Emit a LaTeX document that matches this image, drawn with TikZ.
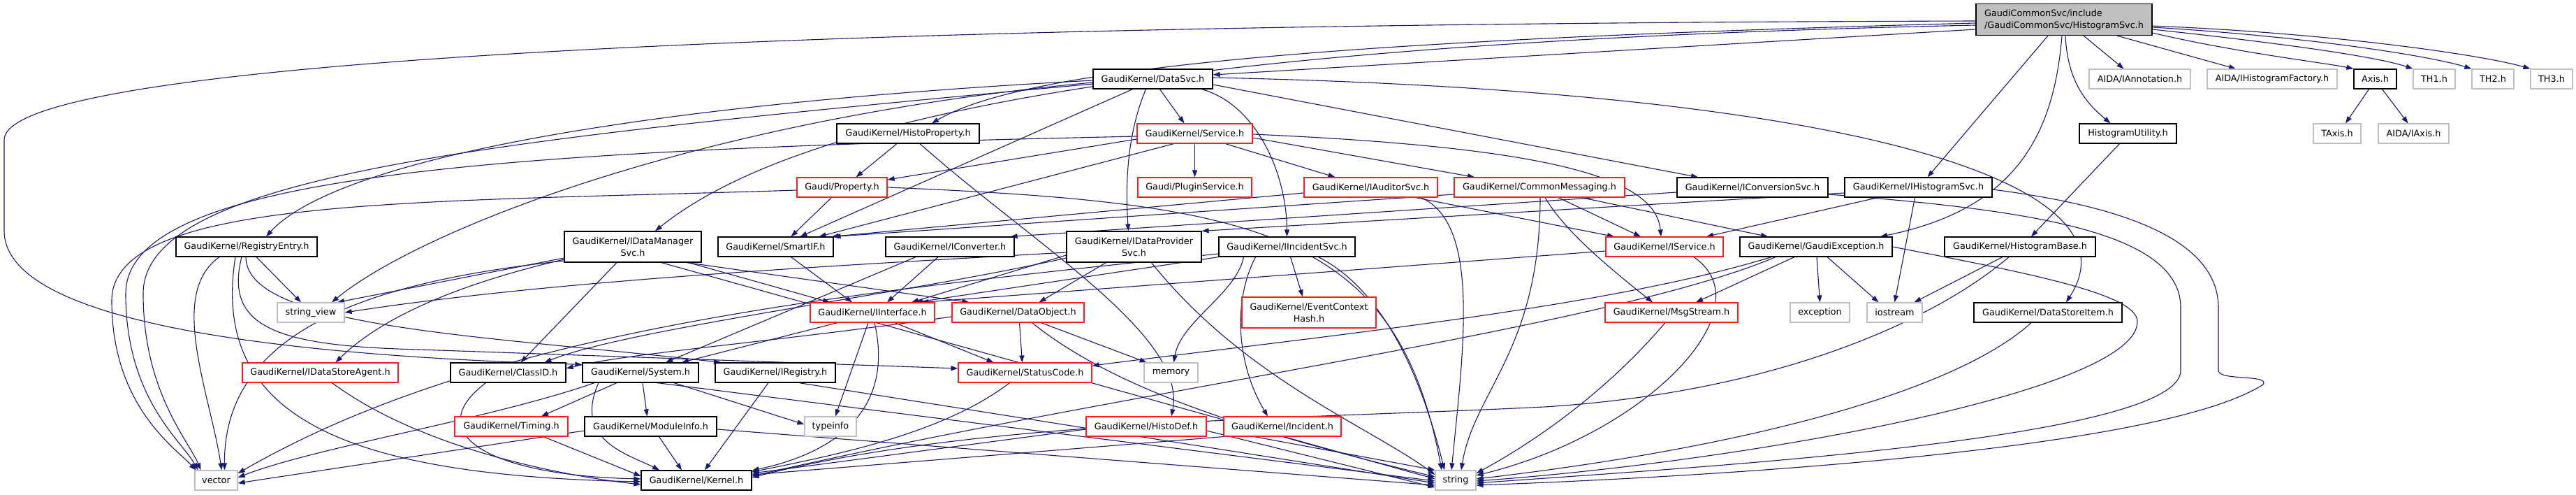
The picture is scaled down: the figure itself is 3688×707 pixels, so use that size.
\documentclass[tikz,border=0pt]{standalone}
\usepackage{fontspec}
\setmainfont{DejaVu Sans}
\usetikzlibrary{arrows.meta,backgrounds}
\definecolor{edgeblue}{RGB}{25,25,112}
\definecolor{boxgray}{RGB}{191,191,191}
\definecolor{boxred}{RGB}{255,30,30}
\tikzset{
  hdr/.style={draw=black,line width=1.2pt,fill=white,rectangle,inner sep=0pt,minimum height=28,font=\fontsize{12.8}{17}\selectfont},
  hdrred/.style={hdr,draw=boxred},
  hdrext/.style={hdr,draw=boxgray},
  dep/.style={draw=edgeblue,line width=1.1pt,-{Triangle[length=10pt,width=7pt]}}
}
\begin{document}
\begin{tikzpicture}[x=1pt,y=-1pt]
\useasboundingbox (0,0) rectangle (3688,707);
\node[hdr,fill=boxgray,align=left,minimum width=252,minimum height=45] (HistogramSvc) at (2955,28) {GaudiCommonSvc/include\\/GaudiCommonSvc/HistogramSvc.h};
\node[hdr,minimum width=171] (DataSvc) at (1650.5,113) {GaudiKernel/DataSvc.h};
\node[hdrext,minimum width=145] (IAnnotation) at (3063.5,113) {AIDA/IAnnotation.h};
\node[hdrext,minimum width=186] (IHistogramFactory) at (3253,113) {AIDA/IHistogramFactory.h};
\node[hdr,minimum width=61] (Axis) at (3400.5,113) {Axis.h};
\node[hdrext,minimum width=60] (TH1) at (3485,113) {TH1.h};
\node[hdrext,minimum width=60] (TH2) at (3569,113) {TH2.h};
\node[hdrext,minimum width=60] (TH3) at (3653,113) {TH3.h};
\node[hdr,minimum width=204] (HistoProperty) at (1300,191) {GaudiKernel/HistoProperty.h};
\node[hdrred,minimum width=165] (Service) at (1710.5,191) {GaudiKernel/Service.h};
\node[hdr,minimum width=139] (HistogramUtility) at (3046.5,191) {HistogramUtility.h};
\node[hdrext,minimum width=68] (TAxis) at (3346,191) {TAxis.h};
\node[hdrext,minimum width=101] (IAxis) at (3455.5,191) {AIDA/IAxis.h};
\node[hdrred,minimum width=129] (Property) at (1205.5,268) {Gaudi/Property.h};
\node[hdrred,minimum width=163] (PluginService) at (1710.5,268) {Gaudi/PluginService.h};
\node[hdrred,minimum width=191] (IAuditorSvc) at (1962.5,268) {GaudiKernel/IAuditorSvc.h};
\node[hdrred,minimum width=244] (CommonMessaging) at (2204,268) {GaudiKernel/CommonMessaging.h};
\node[hdr,minimum width=216] (IConversionSvc) at (2509,268) {GaudiKernel/IConversionSvc.h};
\node[hdr,minimum width=211] (IHistogramSvc) at (2746.5,268) {GaudiKernel/IHistogramSvc.h};
\node[hdr,minimum width=202] (RegistryEntry) at (353,353) {GaudiKernel/RegistryEntry.h};
\node[hdr,align=center,minimum width=196,minimum height=44] (IDataManagerSvc) at (906,353) {GaudiKernel/IDataManager\\Svc.h};
\node[hdr,minimum width=165] (SmartIF) at (1110.5,353) {GaudiKernel/SmartIF.h};
\node[hdr,minimum width=184] (IConverter) at (1360,353) {GaudiKernel/IConverter.h};
\node[hdr,align=center,minimum width=193,minimum height=44] (IDataProviderSvc) at (1623.5,353) {GaudiKernel/IDataProvider\\Svc.h};
\node[hdr,minimum width=195] (IIncidentSvc) at (1842.5,353) {GaudiKernel/IIncidentSvc.h};
\node[hdrred,minimum width=168] (IService) at (2383,353) {GaudiKernel/IService.h};
\node[hdr,minimum width=218] (GaudiException) at (2600,353) {GaudiKernel/GaudiException.h};
\node[hdr,minimum width=216] (HistogramBase) at (2892,353) {GaudiKernel/HistogramBase.h};
\node[hdrext,minimum width=96] (stringview) at (445,447) {string\_view};
\node[hdrred,minimum width=178] (IInterface) at (1249,447) {GaudiKernel/IInterface.h};
\node[hdrred,minimum width=189] (DataObject) at (1457.5,447) {GaudiKernel/DataObject.h};
\node[hdrred,align=center,minimum width=192,minimum height=44] (EventContextHash) at (1874,447) {GaudiKernel/EventContext\\Hash.h};
\node[hdrred,minimum width=190] (MsgStream) at (2393,447) {GaudiKernel/MsgStream.h};
\node[hdrext,minimum width=85] (exception) at (2605.5,447) {exception};
\node[hdrext,minimum width=79] (iostream) at (2712.5,447) {iostream};
\node[hdr,minimum width=212] (DataStoreItem) at (2932,447) {GaudiKernel/DataStoreItem.h};
\node[hdrred,minimum width=223] (IDataStoreAgent) at (458.5,533) {GaudiKernel/IDataStoreAgent.h};
\node[hdr,minimum width=165] (ClassID) at (727.5,533) {GaudiKernel/ClassID.h};
\node[hdr,minimum width=166] (System) at (917,533) {GaudiKernel/System.h};
\node[hdr,minimum width=172] (IRegistry) at (1110,533) {GaudiKernel/IRegistry.h};
\node[hdrred,minimum width=191] (StatusCode) at (1467.5,533) {GaudiKernel/StatusCode.h};
\node[hdrext,minimum width=77] (memory) at (1676.5,533) {memory};
\node[hdrred,minimum width=162] (Timing) at (732,610) {GaudiKernel/Timing.h};
\node[hdr,minimum width=189] (ModuleInfo) at (931.5,610) {GaudiKernel/ModuleInfo.h};
\node[hdrext,minimum width=74] (typeinfo) at (1189,610) {typeinfo};
\node[hdrred,minimum width=172] (HistoDef) at (1641,610) {GaudiKernel/HistoDef.h};
\node[hdrred,minimum width=168] (Incident) at (1836,610) {GaudiKernel/Incident.h};
\node[hdrext,minimum width=61] (vector) at (309.5,687) {vector};
\node[hdr,minimum width=158] (Kernel) at (997,687) {GaudiKernel/Kernel.h};
\node[hdrext,minimum width=58] (string) at (2084,687) {string};
\begin{pgfonlayer}{background}
\fill[white] (0,0) rectangle (3688,707);
\draw[dep] ([yshift=-14pt]HistogramSvc.west) -- ([yshift=6pt]DataSvc.east);
\draw[dep] ([yshift=-5pt]HistogramSvc.west) .. controls (2000,55) and (1480,90) .. ([xshift=34pt]HistoProperty.north);
\draw[dep] ([yshift=-8pt]HistogramSvc.west) .. controls (1700,60) and (1150,160) .. ([xshift=32pt]IDataManagerSvc.north);
\draw[dep] ([yshift=-2pt]HistogramSvc.west) .. controls (900,35) and (6,100) .. (6,200) -- (6,330) .. controls (6,470) and (450,510) .. ([yshift=-3pt]System.north west);
\draw[dep] ([xshift=-23pt]HistogramSvc.south) -- ([xshift=13pt]IHistogramSvc.north);
\draw[dep] ([xshift=-3pt]HistogramSvc.south) .. controls (2940,200) and (2880,300) .. ([xshift=92pt]GaudiException.north);
\draw[dep] ([xshift=2pt]HistogramSvc.south) .. controls (2960,120) and (2990,150) .. ([xshift=-25pt]HistogramUtility.north);
\draw[dep] ([xshift=28pt]HistogramSvc.south) -- ([xshift=-23pt]IAnnotation.north);
\draw[dep] ([xshift=76pt]HistogramSvc.south) -- ([xshift=-52pt]IHistogramFactory.north);
\draw[dep] ([yshift=-19pt]HistogramSvc.east) .. controls (3200,75) and (3330,90) .. (Axis.north west);
\draw[dep] ([yshift=-14pt]HistogramSvc.east) .. controls (3250,60) and (3400,80) .. (TH1.north west);
\draw[dep] ([yshift=-11pt]HistogramSvc.east) .. controls (3300,52) and (3480,80) .. (TH2.north west);
\draw[dep] ([yshift=-9pt]HistogramSvc.east) .. controls (3350,48) and (3560,80) .. (TH3.north west);
\draw[dep] ([xshift=10pt]DataSvc.south) -- ([xshift=-15pt]Service.north);
\draw[dep] ([xshift=-10pt]DataSvc.south) .. controls (1610,200) and (1612,280) .. ([xshift=-8pt]IDataProviderSvc.north);
\draw[dep] ([xshift=-29pt]DataSvc.south) -- ([xshift=35pt]SmartIF.north);
\draw[dep] ([xshift=70pt]DataSvc.south) .. controls (1800,150) and (1842,250) .. (IIncidentSvc.north);
\draw[dep] ([yshift=-8pt]DataSvc.east) -- ([xshift=-78pt]IConversionSvc.north);
\draw[dep] ([yshift=2pt]DataSvc.east) .. controls (2650,130) and (3070,260) .. ([xshift=26pt]DataStoreItem.north);
\draw[dep] ([yshift=-2pt]DataSvc.west) .. controls (900,150) and (480,230) .. ([xshift=28pt]RegistryEntry.north);
\draw[dep] ([yshift=-5pt]DataSvc.west) .. controls (1000,170) and (600,330) .. ([xshift=30pt]stringview.north);
\draw[dep] ([yshift=-7pt]DataSvc.west) .. controls (700,200) and (205,250) .. (205,420) .. controls (205,560) and (270,630) .. ([xshift=-22pt]vector.north);
\draw[dep] ([xshift=-16pt]HistoProperty.south) -- ([xshift=20pt]Property.north);
\draw[dep] ([xshift=17pt]HistoProperty.south) .. controls (1480,350) and (1700,480) .. ([xshift=36pt]HistoDef.north);
\draw[dep] ([yshift=-8pt]Service.west) -- ([yshift=11pt]Property.east);
\draw[dep] (Service) -- (PluginService);
\draw[dep] ([xshift=44pt]Service.south) -- ([xshift=-51pt]IAuditorSvc.north);
\draw[dep] ([yshift=-6pt]Service.east) -- ([xshift=-93pt]CommonMessaging.north);
\draw[dep] ([yshift=-1pt]Service.east) .. controls (2200,210) and (2370,250) .. ([xshift=-5pt]IService.north);
\draw[dep] ([xshift=-30pt]Service.south) -- ([xshift=62pt]SmartIF.north);
\draw[dep] ([yshift=-4pt]Service.west) .. controls (700,215) and (180,250) .. (180,420) .. controls (180,570) and (260,630) .. ([xshift=-26pt]vector.north);
\draw[dep] ([xshift=-15pt]Property.south) -- ([xshift=22pt]SmartIF.north);
\draw[dep] ([yshift=-4pt]Property.west) .. controls (600,290) and (160,280) .. (160,430) .. controls (160,580) and (250,640) .. ([xshift=-29pt]vector.north);
\draw[dep] (Property.east) .. controls (1800,290) and (2000,330) .. ([xshift=-20pt]string.north);
\draw[dep] ([xshift=64pt]IAuditorSvc.south) -- ([xshift=-72pt]IService.north);
\draw[dep] ([xshift=72pt]IAuditorSvc.south) .. controls (2120,320) and (2095,500) .. ([xshift=-6pt]string.north);
\draw[dep] ([yshift=-8pt]IAuditorSvc.west) -- ([xshift=-3pt]SmartIF.north east);
\draw[dep] ([xshift=27pt]CommonMessaging.south) -- ([xshift=-34pt]IService.north);
\draw[dep] ([xshift=8pt]CommonMessaging.south) .. controls (2240,330) and (2300,380) .. ([xshift=-27pt]MsgStream.north);
\draw[dep] ([xshift=60pt]CommonMessaging.south) -- ([xshift=-69pt]GaudiException.north);
\draw[dep] ([xshift=1pt]CommonMessaging.south) .. controls (2205,500) and (2110,560) .. ([xshift=8pt]string.north);
\draw[dep] ([yshift=-10pt]CommonMessaging.west) -- (SmartIF.north east);
\draw[dep] ([yshift=-7pt]IConversionSvc.west) -- ([xshift=-6pt]IConverter.north east);
\draw[dep] ([yshift=-10pt]IConversionSvc.east) .. controls (2900,300) and (3122,330) .. (3122,440) -- (3122,530) .. controls (3122,630) and (2400,670) .. ([yshift=-4pt]string.east);
\draw[dep] ([xshift=-58pt]IHistogramSvc.south) -- ([xshift=60pt]IService.north);
\draw[dep] ([yshift=-8pt]IHistogramSvc.west) -- (IDataProviderSvc.north east);
\draw[dep] ([xshift=-5pt]IHistogramSvc.south) -- (iostream.north);
\draw[dep] ([yshift=-3pt]IHistogramSvc.east) .. controls (3000,290) and (3176,330) .. (3176,440) -- (3176,530) .. controls (3176,545) and (3250,535) .. (3240,550) .. controls (3100,640) and (2500,680) .. ([yshift=-7pt]string.east);
\draw[dep] ([xshift=-39pt]RegistryEntry.south) .. controls (240,420) and (300,560) .. ([xshift=8pt]vector.north);
\draw[dep] ([xshift=14pt]RegistryEntry.south) -- ([xshift=-14pt]stringview.north);
\draw[dep] ([xshift=-1pt]RegistryEntry.south) .. controls (352,470) and (700,480) .. ([xshift=-78pt]IRegistry.north);
\draw[dep] ([xshift=-7pt]RegistryEntry.south) .. controls (320,470) and (400,495) .. (600,500) -- ([yshift=6pt]StatusCode.west);
\draw[dep] ([xshift=-16pt]RegistryEntry.south) .. controls (300,600) and (500,680) .. ([yshift=-2pt]Kernel.west);
\draw[dep] ([xshift=-23pt]IDataManagerSvc.south) -- ([xshift=18pt]ClassID.north);
\draw[dep] ([yshift=-18pt]IDataManagerSvc.west) .. controls (640,410) and (540,460) .. ([xshift=22pt]IDataStoreAgent.north);
\draw[dep] ([yshift=-16pt]IDataManagerSvc.west) -- ([xshift=38pt]stringview.north);
\draw[dep] ([yshift=-20pt]IDataManagerSvc.west) .. controls (560,400) and (320,460) .. ([xshift=12pt]vector.north);
\draw[dep] ([xshift=80pt]IDataManagerSvc.south) -- ([xshift=-61pt]IInterface.north);
\draw[dep] ([xshift=77pt]IDataManagerSvc.south) -- ([xshift=-70pt]DataObject.north);
\draw[dep] ([xshift=41pt]IDataManagerSvc.south) -- ([yshift=2pt]string.west);
\draw[dep] ([xshift=22pt]SmartIF.south) -- ([xshift=-29pt]IInterface.north);
\draw[dep] ([xshift=-17pt]IConverter.south) -- ([xshift=21pt]IInterface.north);
\draw[dep] ([xshift=-49pt]IConverter.south) -- ([xshift=36pt]System.north);
\draw[dep] ([xshift=-40pt]IDataProviderSvc.south) -- ([xshift=30pt]DataObject.north);
\draw[dep] ([yshift=-12pt]IDataProviderSvc.west) -- ([xshift=56pt]IInterface.north);
\draw[dep] ([yshift=-16pt]IDataProviderSvc.west) .. controls (1300,420) and (900,470) .. ([xshift=52pt]ClassID.north);
\draw[dep] ([yshift=-8pt]IDataProviderSvc.west) .. controls (1200,380) and (800,400) .. (stringview.east);
\draw[dep] ([xshift=25pt]IDataProviderSvc.south) .. controls (1780,540) and (1960,610) .. ([yshift=8pt]string.west);
\draw[dep] ([xshift=5pt]IIncidentSvc.south) -- ([xshift=-9pt]EventContextHash.north);
\draw[dep] ([xshift=-45pt]IIncidentSvc.south) .. controls (1765,430) and (1770,520) .. ([xshift=-21pt]Incident.north);
\draw[dep] ([xshift=45pt]IIncidentSvc.south) .. controls (1990,420) and (2040,560) .. ([xshift=-16pt]string.north);
\draw[dep] ([xshift=-62pt]IIncidentSvc.south) .. controls (1770,420) and (1690,460) .. ([xshift=4pt]memory.north);
\draw[dep] (IIncidentSvc.south west) -- ([xshift=62pt]IInterface.north);
\draw[dep] ([yshift=-10pt]IIncidentSvc.west) .. controls (1200,420) and (700,470) .. ([yshift=10pt]vector.east);
\draw[dep] ([xshift=42pt]IService.south) .. controls (2530,440) and (2360,620) .. ([yshift=7pt]string.east);
\draw[dep] ([yshift=-6pt]IService.west) -- ([xshift=70pt]IInterface.north);
\draw[dep] ([xshift=-31pt]GaudiException.south) -- ([xshift=35pt]MsgStream.north);
\draw[dep] ([xshift=1pt]GaudiException.south) -- (exception.north);
\draw[dep] ([xshift=16pt]GaudiException.south) -- ([xshift=-23pt]iostream.north);
\draw[dep] (GaudiException.east) .. controls (2900,390) and (3060,420) .. (3060,460) .. controls (3060,560) and (2500,660) .. ([yshift=-1pt]string.east);
\draw[dep] ([xshift=-64pt]GaudiException.south) .. controls (2300,440) and (1900,480) .. ([yshift=10pt]StatusCode.east);
\draw[dep] ([xshift=-58pt]GaudiException.south) .. controls (2300,470) and (1600,560) .. ([yshift=6pt]Kernel.east);
\draw[dep] ([xshift=-25pt]HistogramBase.south) -- ([xshift=28pt]iostream.north);
\draw[dep] ([xshift=-16pt]HistogramBase.south) .. controls (2780,450) and (2560,560) .. (2211,582) .. controls (1850,600) and (1400,600) .. ([yshift=4pt]Kernel.east);
\draw[dep] ([xshift=-12pt]HistogramUtility.south) -- ([xshift=16pt]HistogramBase.north);
\draw[dep] ([xshift=-9pt]Axis.south) -- ([xshift=12pt]TAxis.north);
\draw[dep] ([xshift=10pt]Axis.south) -- ([xshift=-8pt]IAxis.north);
\draw[dep] ([xshift=-50pt]IInterface.south) -- ([xshift=59pt]System.north);
\draw[dep] ([xshift=-6pt]IInterface.south) -- ([xshift=7pt]typeinfo.north);
\draw[dep] ([xshift=3pt]IInterface.south) .. controls (1275,560) and (1230,640) .. ([yshift=14pt]Kernel.east);
\draw[dep] ([xshift=32pt]IInterface.south) -- ([xshift=-45pt]StatusCode.north);
\draw[dep] ([xshift=2pt]DataObject.south) -- ([xshift=-4pt]StatusCode.north);
\draw[dep] ([xshift=33pt]DataObject.south) -- ([xshift=-35pt]memory.north);
\draw[dep] ([yshift=-6pt]DataObject.west) .. controls (1100,490) and (900,505) .. ([yshift=6pt]ClassID.east);
\draw[dep] ([xshift=20pt]DataObject.south) .. controls (1600,560) and (1800,620) .. ([yshift=5pt]string.west);
\draw[dep] ([xshift=-9pt]MsgStream.south) .. controls (2300,560) and (2200,630) .. ([yshift=10pt]string.east);
\draw[dep] ([xshift=-24pt]DataStoreItem.south) .. controls (2800,560) and (2500,640) .. ([yshift=2pt]string.east);
\draw[dep] ([xshift=17pt]IDataStoreAgent.south) .. controls (600,640) and (800,680) .. ([yshift=-6pt]Kernel.west);
\draw[dep] ([xshift=-32pt]ClassID.south) .. controls (600,620) and (700,680) .. ([yshift=2pt]Kernel.west);
\draw[dep] ([xshift=3pt]System.south) -- ([xshift=-5pt]ModuleInfo.north);
\draw[dep] ([xshift=-34pt]System.south) -- ([xshift=43pt]Timing.north);
\draw[dep] ([xshift=48pt]System.south) -- ([yshift=3pt]typeinfo.west);
\draw[dep] ([xshift=24pt]System.south) -- ([yshift=-1pt]string.west);
\draw[dep] ([xshift=-66pt]System.south) .. controls (700,600) and (450,640) .. ([yshift=4pt]vector.east);
\draw[dep] ([xshift=-60pt]System.south) .. controls (820,630) and (900,650) .. ([xshift=-53pt]Kernel.north);
\draw[dep] ([xshift=-10pt]IRegistry.south) -- ([xshift=12pt]Kernel.north);
\draw[dep] ([xshift=34pt]IRegistry.south) -- ([yshift=-4pt]string.west);
\draw[dep] ([xshift=-22pt]StatusCode.south) .. controls (1350,620) and (1200,650) .. ([yshift=12pt]Kernel.east);
\draw[dep] ([xshift=12pt]ModuleInfo.south) -- ([xshift=-21pt]Kernel.north);
\draw[dep] ([yshift=-4pt]ModuleInfo.east) -- ([yshift=-7pt]string.west);
\draw[dep] ([yshift=-6pt]ModuleInfo.west) -- ([yshift=-4pt]vector.east);
\draw[dep] ([xshift=46pt]Timing.south) -- ([yshift=6pt]Kernel.west);
\draw[dep] ([yshift=-4pt]HistoDef.west) -- ([yshift=10pt]Kernel.east);
\draw[dep] ([yshift=-6pt]HistoDef.east) -- ([yshift=-10pt]string.west);
\draw[dep] (Incident.south west) -- ([yshift=8pt]Kernel.east);
\draw[dep] ([xshift=-40pt]Incident.south) -- (string.north west);
\end{pgfonlayer}
\end{tikzpicture}
\end{document}
